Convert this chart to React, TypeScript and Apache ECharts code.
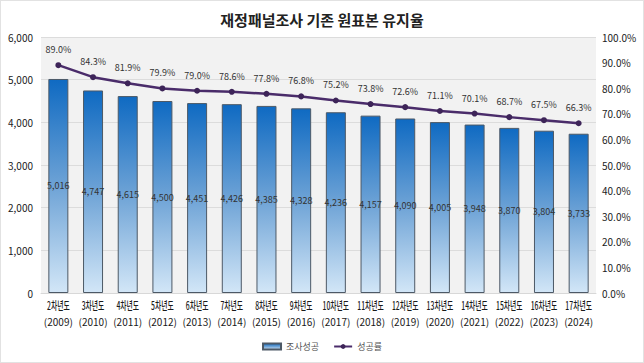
import React, { useEffect, useRef } from "react";
import * as echarts from "echarts";

const rounds = [
  "2차년도", "3차년도", "4차년도", "5차년도", "6차년도", "7차년도", "8차년도", "9차년도",
  "10차년도", "11차년도", "12차년도", "13차년도", "14차년도", "15차년도", "16차년도", "17차년도",
];
const years = [
  "(2009)", "(2010)", "(2011)", "(2012)", "(2013)", "(2014)", "(2015)", "(2016)",
  "(2017)", "(2018)", "(2019)", "(2020)", "(2021)", "(2022)", "(2023)", "(2024)",
];
const surveySuccess = [5016, 4747, 4615, 4500, 4451, 4426, 4385, 4328, 4236, 4157, 4090, 4005, 3948, 3870, 3804, 3733];
const successRate = [89.0, 84.3, 81.9, 79.9, 79.0, 78.6, 77.8, 76.8, 75.2, 73.8, 72.6, 71.1, 70.1, 68.7, 67.5, 66.3];

const categories = rounds.map((r, i) => r + "\n" + years[i]);

const FONT = "'Noto Sans CJK KR', 'Noto Sans', sans-serif";

export default function App() {
  const ref = useRef<HTMLDivElement>(null);
  useEffect(() => {
    if (!ref.current) return;
    const chart = echarts.init(ref.current, null, { renderer: "svg" });
    const barGrad = new echarts.graphic.LinearGradient(0, 0, 0, 1, [
      { offset: 0, color: "#0f6ac2" },
      { offset: 0.5, color: "#6ea3d6" },
      { offset: 1, color: "#d2e6f7" },
    ]);
    chart.setOption({
      animation: false,
      textStyle: { fontFamily: FONT },
      title: {
        text: "재정패널조사 기존 원표본 유지율",
        left: "center",
        top: 6,
        textStyle: { fontSize: 15, fontWeight: "bold", color: "#222", fontFamily: FONT },
      },
      grid: {
        left: 40,
        right: 47,
        top: 36,
        bottom: 69,
        show: true,
        backgroundColor: "#f2f2f2",
        borderWidth: 0,
      },
      legend: {
        bottom: 6,
        left: "center",
        itemWidth: 18,
        itemHeight: 6,
        itemGap: 14,
        textStyle: { fontSize: 9, color: "#555", fontFamily: FONT },
        data: [
          { name: "조사성공", icon: "rect" },
          { name: "성공률" },
        ],
      },
      xAxis: {
        type: "category",
        data: categories,
        axisTick: { show: false },
        axisLine: { show: true, lineStyle: { color: "#d8d8d8" } },
        axisLabel: { show: false },
      },
      yAxis: [
        {
          type: "value",
          min: 0,
          max: 6000,
          interval: 1000,
          axisLabel: {
            fontSize: 10,
            color: "#222",
            margin: 8,
            formatter: (v: number) => v.toLocaleString("en-US"),
          },
          splitLine: { lineStyle: { color: "#dcdcdc" } },
          axisLine: { show: false },
          axisTick: { show: false },
        },
        {
          type: "value",
          min: 0,
          max: 100,
          interval: 10,
          axisLabel: {
            fontSize: 10,
            color: "#222",
            margin: 6,
            formatter: (v: number) => v.toFixed(1) + "%",
          },
          splitLine: { show: false },
          axisLine: { show: false },
          axisTick: { show: false },
        },
      ],
      series: [
        {
          name: "조사성공",
          type: "bar",
          data: surveySuccess,
          barWidth: 20,
          itemStyle: {
            color: barGrad,
            borderColor: "#4d5966",
            borderWidth: 1,
          },
          label: {
            show: true,
            position: "inside",
            fontSize: 9,
            color: "#333",
            formatter: (p: any) => Number(p.value).toLocaleString("en-US"),
          },
        },
        {
          name: "성공률",
          type: "line",
          yAxisIndex: 1,
          data: successRate,
          symbol: "circle",
          symbolSize: 6,
          lineStyle: { color: "#4a2c6a", width: 2.5 },
          itemStyle: { color: "#3d2458" },
          label: {
            show: true,
            position: "top",
            distance: 8,
            fontSize: 9,
            color: "#333",
            formatter: (p: any) => Number(p.value).toFixed(1) + "%",
          },
        },
        {
          name: "xlabels",
          type: "custom",
          silent: true,
          data: rounds.map((_, i) => [i, 0]),
          renderItem: (params: any, api: any) => {
            const pt = api.coord([api.value(0), 0]);
            const i = params.dataIndex;
            return {
              type: "group",
              x: pt[0],
              y: pt[1] + 7,
              children: [
                {
                  type: "text",
                  x: 0,
                  y: 0,
                  scaleX: 0.62,
                  style: {
                    text: rounds[i],
                    fontSize: 11,
                    fontWeight: 500,
                    fill: "#1a1a1a",
                    align: "center",
                    verticalAlign: "top",
                    fontFamily: FONT,
                  },
                },
                {
                  type: "text",
                  x: 0,
                  y: 16,
                  style: {
                    text: years[i],
                    fontSize: 10,
                    fill: "#1a1a1a",
                    align: "center",
                    verticalAlign: "top",
                    fontFamily: FONT,
                  },
                },
              ],
            };
          },
        },
      ],
    });
    return () => chart.dispose();
  }, []);
  return (
    <div
      style={{
        position: "fixed",
        left: 0,
        top: 0,
        width: 644,
        height: 363,
        boxSizing: "border-box",
        border: "1px solid #e2e2e2",
        background: "#fff",
      }}
    >
      <div ref={ref} style={{ width: 642, height: 361 }} />
    </div>
  );
}
